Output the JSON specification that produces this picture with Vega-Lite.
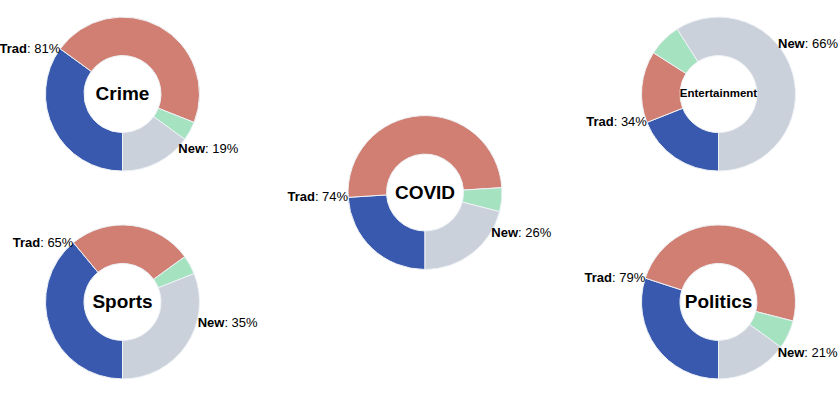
{
  "$schema": "https://vega.github.io/schema/vega-lite/v6.json",
  "padding": {"left": -1, "top": 4, "right": 0, "bottom": 0},
  "background": "white",
  "bounds": "flush",
  "spacing": 20,
  "config": {
    "view": {"stroke": null},
    "text": {"font": "Liberation Sans", "color": "#000"},
    "style": {
      "lbl": {"baseline": "middle", "font": "Liberation Sans", "fontSize": 13, "fill": "#000"},
      "lblB": {"baseline": "middle", "font": "Liberation Sans", "fontSize": 13, "fontWeight": "bold", "fill": "#000"}
    }
  },
  "data": {
    "values": [
      {"topic": "Crime", "group": "Trad", "segment": "Trad 1", "value": 0.35},
      {"topic": "Crime", "group": "Trad", "segment": "Trad 2", "value": 0.46},
      {"topic": "Crime", "group": "New", "segment": "New 1", "value": 0.04},
      {"topic": "Crime", "group": "New", "segment": "New 2", "value": 0.15},
      {"topic": "COVID", "group": "Trad", "segment": "Trad 1", "value": 0.24},
      {"topic": "COVID", "group": "Trad", "segment": "Trad 2", "value": 0.50},
      {"topic": "COVID", "group": "New", "segment": "New 1", "value": 0.05},
      {"topic": "COVID", "group": "New", "segment": "New 2", "value": 0.21},
      {"topic": "Entertainment", "group": "Trad", "segment": "Trad 1", "value": 0.19},
      {"topic": "Entertainment", "group": "Trad", "segment": "Trad 2", "value": 0.15},
      {"topic": "Entertainment", "group": "New", "segment": "New 1", "value": 0.07},
      {"topic": "Entertainment", "group": "New", "segment": "New 2", "value": 0.59},
      {"topic": "Sports", "group": "Trad", "segment": "Trad 1", "value": 0.39},
      {"topic": "Sports", "group": "Trad", "segment": "Trad 2", "value": 0.26},
      {"topic": "Sports", "group": "New", "segment": "New 1", "value": 0.04},
      {"topic": "Sports", "group": "New", "segment": "New 2", "value": 0.31},
      {"topic": "Politics", "group": "Trad", "segment": "Trad 1", "value": 0.30},
      {"topic": "Politics", "group": "Trad", "segment": "Trad 2", "value": 0.49},
      {"topic": "Politics", "group": "New", "segment": "New 1", "value": 0.06},
      {"topic": "Politics", "group": "New", "segment": "New 2", "value": 0.15}
    ]
  },
  "hconcat": [
    {
      "width": 237, "height": 388,
      "transform": [{"filter": {"field": "topic", "oneOf": ["Crime", "Sports"]}}],
      "encoding": {"y": {"field": "topic", "type": "nominal", "scale": {"type": "point", "domain": ["Crime", "Sports"], "padding": 0.4333}, "axis": null}},
      "resolve": {"scale": {"theta": "independent"}},
      "layer": [
        {"transform": [{"stack": "value", "groupby": ["topic"], "sort": [{"field": "group", "order": "descending"}], "as": ["v0", "v1"]}],
         "mark": {"type": "arc", "outerRadius": 77, "innerRadius": 38.5, "stroke": "#eef2f6", "strokeWidth": 1},
         "encoding": {"theta": {"field": "v0", "type": "quantitative", "stack": null, "scale": {"domain": [0, 1], "range": [3.141593, 9.424778]}}, "theta2": {"field": "v1"},
           "color": {"field": "segment", "type": "nominal", "scale": {"domain": ["Trad 1", "Trad 2", "New 1", "New 2"], "range": ["#3959ae", "#d17f73", "#a5e3c0", "#cbd1da"]}, "legend": null}}},
        {"transform": [{"aggregate": [{"op": "count", "as": "n"}], "groupby": ["topic"]}],
         "mark": {"type": "text", "fontWeight": "bold", "font": "Liberation Sans", "baseline": "middle", "align": "center"},
         "encoding": {"text": {"field": "topic", "type": "nominal"}, "size": {"condition": {"test": "datum.topic === 'Entertainment'", "value": 11.5}, "value": 19}}},
        {"transform": [{"joinaggregate": [{"op": "sum", "field": "value", "as": "total"}], "groupby": ["topic", "group"]}, {"filter": "datum.segment === 'Trad 1'"}],
         "encoding": {"theta": {"field": "value", "type": "quantitative", "stack": null, "scale": {"domain": [0, 1], "range": [3.141593, 9.424778]}}},
         "layer": [
           {"mark": {"type": "text", "style": "lblB", "radius": 77, "align": "right", "dx": -33.23}, "encoding": {"text": {"field": "group", "type": "nominal"}}},
           {"mark": {"type": "text", "style": "lbl", "radius": 77, "align": "right", "dx": -29.62}, "encoding": {"text": {"value": ":"}}},
           {"mark": {"type": "text", "style": "lbl", "radius": 77, "align": "right"}, "encoding": {"text": {"field": "total", "type": "quantitative", "format": ".0%"}}}
         ]},
        {"transform": [{"aggregate": [{"op": "sum", "field": "value", "as": "total"}], "groupby": ["topic", "group"]}, {"filter": "datum.group === 'New'"}],
         "encoding": {"theta": {"field": "total", "type": "quantitative", "stack": null, "scale": {"domain": [0, 1], "range": [9.224065, 6.082472]}}},
         "layer": [
           {"mark": {"type": "text", "style": "lblB", "radius": 78, "align": "left"}, "encoding": {"text": {"field": "group", "type": "nominal"}}},
           {"mark": {"type": "text", "style": "lbl", "radius": 78, "align": "left", "dx": 26.73}, "encoding": {"text": {"value": ":"}}},
           {"mark": {"type": "text", "style": "lbl", "radius": 78, "align": "left", "dx": 33.95}, "encoding": {"text": {"field": "total", "type": "quantitative", "format": ".0%"}}}
         ]}
      ]
    },
    {
      "width": 328, "height": 377,
      "transform": [{"filter": {"field": "topic", "oneOf": ["COVID"]}}],
      "resolve": {"scale": {"theta": "independent"}},
      "layer": [
        {"transform": [{"stack": "value", "groupby": ["topic"], "sort": [{"field": "group", "order": "descending"}], "as": ["v0", "v1"]}],
         "mark": {"type": "arc", "outerRadius": 77, "innerRadius": 38.5, "stroke": "#eef2f6", "strokeWidth": 1},
         "encoding": {"theta": {"field": "v0", "type": "quantitative", "stack": null, "scale": {"domain": [0, 1], "range": [3.141593, 9.424778]}}, "theta2": {"field": "v1"},
           "color": {"field": "segment", "type": "nominal", "scale": {"domain": ["Trad 1", "Trad 2", "New 1", "New 2"], "range": ["#3959ae", "#d17f73", "#a5e3c0", "#cbd1da"]}, "legend": null}}},
        {"transform": [{"aggregate": [{"op": "count", "as": "n"}], "groupby": ["topic"]}],
         "mark": {"type": "text", "fontWeight": "bold", "font": "Liberation Sans", "baseline": "middle", "align": "center"},
         "encoding": {"text": {"field": "topic", "type": "nominal"}, "size": {"condition": {"test": "datum.topic === 'Entertainment'", "value": 11.5}, "value": 19}}},
        {"transform": [{"joinaggregate": [{"op": "sum", "field": "value", "as": "total"}], "groupby": ["topic", "group"]}, {"filter": "datum.segment === 'Trad 1'"}],
         "encoding": {"theta": {"field": "value", "type": "quantitative", "stack": null, "scale": {"domain": [0, 1], "range": [3.141593, 9.424778]}}},
         "layer": [
           {"mark": {"type": "text", "style": "lblB", "radius": 77, "align": "right", "dx": -33.23}, "encoding": {"text": {"field": "group", "type": "nominal"}}},
           {"mark": {"type": "text", "style": "lbl", "radius": 77, "align": "right", "dx": -29.62}, "encoding": {"text": {"value": ":"}}},
           {"mark": {"type": "text", "style": "lbl", "radius": 77, "align": "right"}, "encoding": {"text": {"field": "total", "type": "quantitative", "format": ".0%"}}}
         ]},
        {"transform": [{"aggregate": [{"op": "sum", "field": "value", "as": "total"}], "groupby": ["topic", "group"]}, {"filter": "datum.group === 'New'"}],
         "encoding": {"theta": {"field": "total", "type": "quantitative", "stack": null, "scale": {"domain": [0, 1], "range": [9.224065, 6.082472]}}},
         "layer": [
           {"mark": {"type": "text", "style": "lblB", "radius": 78, "align": "left"}, "encoding": {"text": {"field": "group", "type": "nominal"}}},
           {"mark": {"type": "text", "style": "lbl", "radius": 78, "align": "left", "dx": 26.73}, "encoding": {"text": {"value": ":"}}},
           {"mark": {"type": "text", "style": "lbl", "radius": 78, "align": "left", "dx": 33.95}, "encoding": {"text": {"field": "total", "type": "quantitative", "format": ".0%"}}}
         ]}
      ]
    },
    {
      "width": 219, "height": 388,
      "transform": [{"filter": {"field": "topic", "oneOf": ["Entertainment", "Politics"]}}],
      "encoding": {"y": {"field": "topic", "type": "nominal", "scale": {"type": "point", "domain": ["Entertainment", "Politics"], "padding": 0.4333}, "axis": null}},
      "resolve": {"scale": {"theta": "independent"}},
      "layer": [
        {"transform": [{"stack": "value", "groupby": ["topic"], "sort": [{"field": "group", "order": "descending"}], "as": ["v0", "v1"]}],
         "mark": {"type": "arc", "outerRadius": 77, "innerRadius": 38.5, "stroke": "#eef2f6", "strokeWidth": 1},
         "encoding": {"theta": {"field": "v0", "type": "quantitative", "stack": null, "scale": {"domain": [0, 1], "range": [3.141593, 9.424778]}}, "theta2": {"field": "v1"},
           "color": {"field": "segment", "type": "nominal", "scale": {"domain": ["Trad 1", "Trad 2", "New 1", "New 2"], "range": ["#3959ae", "#d17f73", "#a5e3c0", "#cbd1da"]}, "legend": null}}},
        {"transform": [{"aggregate": [{"op": "count", "as": "n"}], "groupby": ["topic"]}],
         "mark": {"type": "text", "fontWeight": "bold", "font": "Liberation Sans", "baseline": "middle", "align": "center"},
         "encoding": {"text": {"field": "topic", "type": "nominal"}, "size": {"condition": {"test": "datum.topic === 'Entertainment'", "value": 11.5}, "value": 19}}},
        {"transform": [{"joinaggregate": [{"op": "sum", "field": "value", "as": "total"}], "groupby": ["topic", "group"]}, {"filter": "datum.segment === 'Trad 1'"}],
         "encoding": {"theta": {"field": "value", "type": "quantitative", "stack": null, "scale": {"domain": [0, 1], "range": [3.141593, 9.424778]}}},
         "layer": [
           {"mark": {"type": "text", "style": "lblB", "radius": 77, "align": "right", "dx": -33.23}, "encoding": {"text": {"field": "group", "type": "nominal"}}},
           {"mark": {"type": "text", "style": "lbl", "radius": 77, "align": "right", "dx": -29.62}, "encoding": {"text": {"value": ":"}}},
           {"mark": {"type": "text", "style": "lbl", "radius": 77, "align": "right"}, "encoding": {"text": {"field": "total", "type": "quantitative", "format": ".0%"}}}
         ]},
        {"transform": [{"aggregate": [{"op": "sum", "field": "value", "as": "total"}], "groupby": ["topic", "group"]}, {"filter": "datum.group === 'New'"}],
         "encoding": {"theta": {"field": "total", "type": "quantitative", "stack": null, "scale": {"domain": [0, 1], "range": [9.224065, 6.082472]}}},
         "layer": [
           {"mark": {"type": "text", "style": "lblB", "radius": 78, "align": "left"}, "encoding": {"text": {"field": "group", "type": "nominal"}}},
           {"mark": {"type": "text", "style": "lbl", "radius": 78, "align": "left", "dx": 26.73}, "encoding": {"text": {"value": ":"}}},
           {"mark": {"type": "text", "style": "lbl", "radius": 78, "align": "left", "dx": 33.95}, "encoding": {"text": {"field": "total", "type": "quantitative", "format": ".0%"}}}
         ]}
      ]
    }
  ]
}
